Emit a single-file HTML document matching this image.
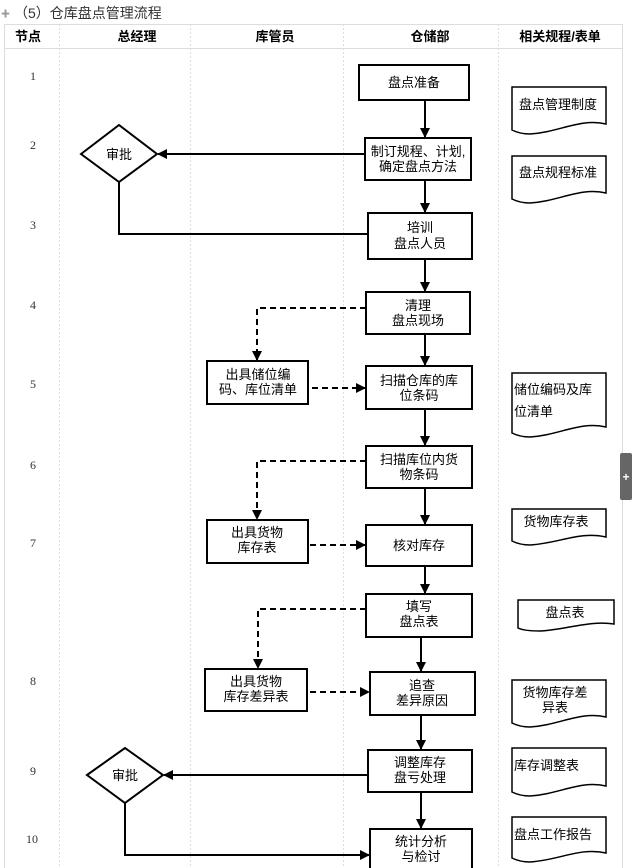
<!DOCTYPE html>
<html><head><meta charset="utf-8"><style>
html,body{margin:0;padding:0;background:#fff;}
svg{display:block;font-family:"Liberation Sans","Noto Sans CJK SC",sans-serif;}
</style></head><body>
<svg width="640" height="868" viewBox="0 0 640 868" xmlns="http://www.w3.org/2000/svg">
<defs>
<marker id="a" markerWidth="10" markerHeight="10" refX="9" refY="5" orient="auto" markerUnits="userSpaceOnUse"><path d="M0,0 L10,5 L0,10 Z" fill="#000"/></marker>
</defs>
<text x="1" y="17" font-size="9" fill="#999">✚</text>
<text x="14" y="18" font-size="14" fill="#333">（5）仓库盘点管理流程</text>
<!-- table grid -->
<g stroke="#ddd" stroke-width="1" fill="none">
<rect x="4.5" y="24.5" width="618" height="850"/>
<line x1="4" y1="48.5" x2="623" y2="48.5"/>
</g>
<g stroke="#ddd" stroke-width="1" stroke-dasharray="2,2">
<line x1="59.5" y1="24" x2="59.5" y2="868"/>
<line x1="190.5" y1="24" x2="190.5" y2="868"/>
<line x1="343.5" y1="24" x2="343.5" y2="868"/>
<line x1="498.5" y1="24" x2="498.5" y2="868"/>
</g>
<g font-size="13" font-weight="bold" text-anchor="middle" fill="#000">
<text x="28" y="41">节点</text><text x="137" y="41">总经理</text><text x="275" y="41">库管员</text><text x="430" y="41">仓储部</text><text x="560" y="41">相关规程/表单</text>
</g>
<g font-size="12" fill="#333" text-anchor="middle" font-family="Liberation Serif,serif">
<text x="33" y="80">1</text><text x="33" y="149">2</text><text x="33" y="229">3</text><text x="33" y="309">4</text><text x="33" y="388">5</text><text x="33" y="469">6</text><text x="33" y="547">7</text><text x="33" y="685">8</text><text x="33" y="775">9</text><text x="32" y="843">10</text>
</g>
<!-- tab -->
<rect x="620" y="453" width="12" height="47" rx="2" fill="#666"/>
<text x="626" y="481" font-size="12" fill="#fff" text-anchor="middle" font-weight="bold">+</text>
<!-- boxes -->
<g stroke="#000" stroke-width="2" fill="#fff">
<rect x="359" y="65" width="110" height="35"/>
<rect x="365" y="138" width="106" height="42"/>
<rect x="368" y="213" width="104" height="46"/>
<rect x="366" y="292" width="104" height="42"/>
<rect x="207" y="361" width="101" height="43"/>
<rect x="366" y="366" width="106" height="43"/>
<rect x="366" y="446" width="106" height="42"/>
<rect x="207" y="520" width="101" height="43"/>
<rect x="366" y="525" width="106" height="41"/>
<rect x="366" y="594" width="106" height="43"/>
<rect x="205" y="669" width="102" height="42"/>
<rect x="370" y="672" width="105" height="43"/>
<rect x="368" y="750" width="104" height="42"/>
<rect x="370" y="829" width="102" height="45"/>
<path d="M81,154 L119,125 L157,154 L119,182 Z"/>
<path d="M87,775 L125,748 L163,775 L125,803 Z"/>
</g>
<!-- documents -->
<g stroke="#000" stroke-width="1.5" fill="#fff">
<path d="M512,87 H606 V124 C580,118 560,132 530,134 C522,134 516,132 512,130 Z"/>
<path d="M512,156 H606 V193 C580,187 560,201 530,203 C522,203 516,201 512,199 Z"/>
<path d="M512,373 H606 V427 C580,421 560,435 530,437 C522,437 516,435 512,433 Z"/>
<path d="M512,509 H606 V537 C580,531 560,543 530,545 C522,545 516,543 512,541 Z"/>
<path d="M518,600 H614 V624 C590,620 565,630 540,631 C530,631 522,630 518,628 Z"/>
<path d="M512,680 H606 V717 C580,711 560,725 530,727 C522,727 516,725 512,723 Z"/>
<path d="M512,748 H606 V786 C580,780 560,794 530,796 C522,796 516,794 512,792 Z"/>
<path d="M512,817 H606 V853 C580,847 560,860 530,862 C522,862 516,860 512,858 Z"/>
</g>
<!-- solid connectors -->
<g stroke="#000" stroke-width="2" fill="none" marker-end="url(#a)">
<line x1="425" y1="100" x2="425" y2="137"/>
<line x1="365" y1="154" x2="158" y2="154"/>
<line x1="425" y1="180" x2="425" y2="212"/>
<line x1="425" y1="259" x2="425" y2="291"/>
<line x1="425" y1="334" x2="425" y2="365"/>
<line x1="425" y1="409" x2="425" y2="445"/>
<line x1="425" y1="488" x2="425" y2="524"/>
<line x1="425" y1="566" x2="425" y2="593"/>
<line x1="421" y1="637" x2="421" y2="671"/>
<line x1="421" y1="715" x2="421" y2="749"/>
<line x1="368" y1="775" x2="164" y2="775"/>
<line x1="421" y1="792" x2="421" y2="828"/>
<polyline points="125,803 125,855 369,855"/>
</g>
<polyline points="119,182 119,234 368,234" stroke="#000" stroke-width="2" fill="none"/>
<!-- dashed connectors -->
<g stroke="#000" stroke-width="2" fill="none" stroke-dasharray="6,4" marker-end="url(#a)">
<polyline points="366,308 257,308 257,360"/>
<line x1="312" y1="388" x2="365" y2="388"/>
<polyline points="366,461 257,461 257,519"/>
<line x1="310" y1="545" x2="365" y2="545"/>
<polyline points="366,609 258,609 258,668"/>
<line x1="310" y1="692" x2="369" y2="692"/>
</g>
<!-- labels -->
<g font-size="13" fill="#000" text-anchor="middle">
<text x="414" y="87">盘点准备</text>
<text x="418" y="156">制订规程、计划,</text><text x="418" y="171">确定盘点方法</text>
<text x="420" y="232">培训</text><text x="420" y="248">盘点人员</text>
<text x="418" y="310">清理</text><text x="418" y="325">盘点现场</text>
<text x="258" y="379">出具储位编</text><text x="258" y="394">码、库位清单</text>
<text x="419" y="385">扫描仓库的库</text><text x="419" y="400">位条码</text>
<text x="419" y="464">扫描库位内货</text><text x="419" y="479">物条码</text>
<text x="257" y="537">出具货物</text><text x="257" y="552">库存表</text>
<text x="419" y="550">核对库存</text>
<text x="419" y="611">填写</text><text x="419" y="626">盘点表</text>
<text x="256" y="686">出具货物</text><text x="256" y="701">库存差异表</text>
<text x="422" y="690">追查</text><text x="422" y="705">差异原因</text>
<text x="420" y="767">调整库存</text><text x="420" y="782">盘亏处理</text>
<text x="421" y="846">统计分析</text><text x="421" y="861">与检讨</text>
<text x="119" y="159">审批</text>
<text x="125" y="780">审批</text>
<text x="558" y="109">盘点管理制度</text>
<text x="558" y="177">盘点规程标准</text>
<text x="514" y="394" text-anchor="start">储位编码及库</text>
<text x="514" y="416" text-anchor="start">位清单</text>
<text x="556" y="526">货物库存表</text>
<text x="565" y="617">盘点表</text>
<text x="555" y="697">货物库存差</text><text x="555" y="712">异表</text>
<text x="514" y="770" text-anchor="start">库存调整表</text>
<text x="514" y="839" text-anchor="start">盘点工作报告</text>
</g>
</svg>
</body></html>
